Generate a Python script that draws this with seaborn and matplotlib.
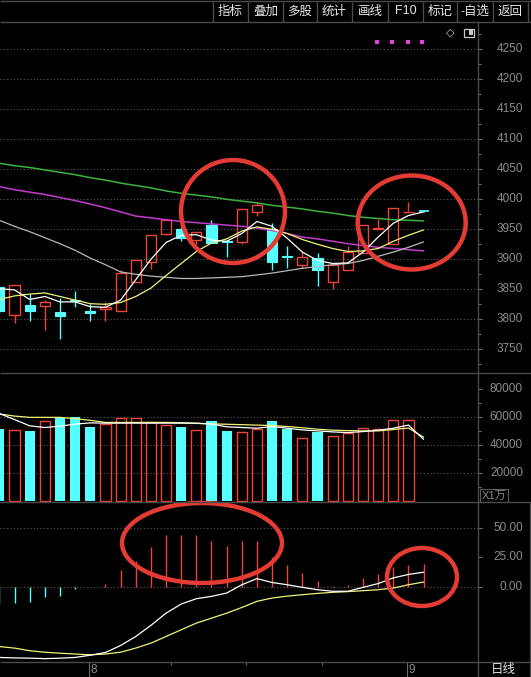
import numpy as np
import pandas as pd
import matplotlib
matplotlib.use("Agg")
import matplotlib.pyplot as plt
from matplotlib.patches import Ellipse, Rectangle
import seaborn as sns

# daily candles (day 0 is cut at the left edge, day 28 is the new day)
opens  = [3853, 3808, 3823, 3823, 3812, 3833, 3814, 3817, 3814, 3862, 3895, 3943, 3950, 3933, 3957,
          3931, 3929, 3979, 3951, 3906, 3890, 3903, 3862, 3882, 3910, 3950, 3926, 3979, 3981]
highs  = [3856, 3858, 3842, 3833, 3836, 3847, 3825, 3829, 3883, 3899, 3940, 3966, 3954, 3946, 3966,
          3932, 3983, 3996, 3960, 3923, 3912, 3911, 3890, 3923, 3957, 3968, 3986, 3996, 3982]
lows   = [3810, 3794, 3797, 3782, 3768, 3820, 3797, 3798, 3814, 3862, 3884, 3940, 3931, 3926, 3927,
          3904, 3925, 3972, 3882, 3886, 3884, 3855, 3851, 3882, 3910, 3950, 3926, 3979, 3979]
closes = [3814, 3858, 3814, 3829, 3806, 3831, 3811, 3821, 3877, 3899, 3940, 3966, 3935, 3946, 3927,
          3929, 3983, 3990, 3896, 3904, 3904, 3882, 3890, 3912, 3957, 3952, 3986, 3980, 3980]

# moving averages on the price panel
ma_white   = [3851, 3849, 3833, 3838, 3829, 3829, 3821, 3820, 3832, 3866, 3900, 3928, 3940, 3941, 3932,
              3930, 3943, 3963, 3955, 3935, 3912, 3898, 3893, 3894, 3912, 3937, 3960, 3973, 3979]
ma_yellow  = [3833, 3839, 3842, 3844, 3838, 3832, 3826, 3825, 3828, 3838, 3852, 3873, 3893, 3913, 3927,
              3934, 3947, 3954, 3950, 3943, 3933, 3925, 3918, 3913, 3914, 3918, 3930, 3940, 3949]
ma_gray    = [3965, 3955, 3946, 3936, 3926, 3915, 3902, 3891, 3879, 3875, 3872, 3870, 3868, 3868, 3869,
              3870, 3871, 3874, 3877, 3881, 3885, 3888, 3891, 3893, 3898, 3905, 3912, 3920, 3929]
ma_magenta = [4021, 4016, 4012, 4008, 4003, 3998, 3992, 3986, 3979, 3972, 3969, 3966, 3963, 3961, 3959,
              3957, 3955, 3952, 3948, 3943, 3937, 3934, 3930, 3926, 3923, 3920, 3918, 3916, 3914]
ma_green   = [4060, 4056, 4053, 4049, 4045, 4041, 4036, 4032, 4027, 4023, 4019, 4014, 4010, 4007, 4004,
              4000, 3997, 3994, 3990, 3987, 3984, 3980, 3977, 3973, 3970, 3968, 3966, 3965, 3964]

# volume panel
volume = [51650, 50700, 50000, 57200, 59100, 60070, 53100, 54800, 59100, 59100, 56000, 54300, 53100, 50700, 57200,
          50000, 49300, 51200, 57200, 51200, 44700, 49500, 46400, 48800, 51900, 51200, 57900, 57900, 600]
vol_ma_yellow = [62000, 60500, 59600, 59600, 59600, 58600, 57500, 56000, 56000, 56000, 56000, 56000, 55800, 55300, 55000,
                 54700, 54400, 54100, 53800, 53100, 52200, 51200, 50500, 50200, 50000, 50000, 51000, 52000, 45500]
vol_ma_white  = [62300, 58000, 53600, 52400, 53400, 54800, 55700, 55500, 55500, 55500, 55500, 55500, 55500, 55500, 54800,
                 52900, 52400, 51900, 53100, 51900, 50700, 50000, 49300, 48800, 49500, 50500, 51900, 54100, 44000]

# MACD panel
macd_hist = [-14.0, -13.6, -12.6, -8.7, -7.8, -1.9, 0.0, 2.9, 14.0, 22.3, 34.0, 43.7, 43.7, 43.7, 38.8,
             34.9, 38.8, 38.8, 25.2, 18.4, 11.6, 4.9, 0.5, 1.9, 7.8, 10.7, 16.5, 18.4, 19.4]
dif = [-59.5, -59.9, -60.1, -60.5, -60.1, -59.5, -57.6, -55.3, -49.4, -41.8, -32.4, -22.1, -14.4, -9.9, -7.9,
       -5.1, 1.9, 7.1, 3.8, 1.9, -0.3, -2.3, -3.6, -3.6, -0.3, 2.9, 7.7, 10.6, 12.5]
dea = [-50.3, -51.6, -53.8, -55.1, -55.9, -56.6, -57.3, -56.6, -55.1, -51.6, -47.4, -41.8, -36.1, -30.5, -26.3,
       -22.1, -17.3, -12.1, -9.3, -7.7, -6.5, -5.4, -4.5, -3.9, -3.1, -2.3, -0.9, 1.9, 4.2]

price_ticks = [3750, 3800, 3850, 3900, 3950, 4000, 4050, 4100, 4150, 4200, 4250]
vol_ticks = [20000, 40000, 60000, 80000]
macd_ticks = [0, 25, 50]
month_start = [6, 27]
month_labels = ["8", "9"]
week_start = [11, 16, 21]
toolbar = ["指标", "叠加", "多股", "统计", "画线", "F10", "标记", "-自选", "返回"]

sns.set_theme(style="dark", rc={"axes.facecolor": "black", "figure.facecolor": "black"})
plt.rcParams["font.family"] = ["Liberation Sans", "Noto Sans CJK SC", "DejaVu Sans"]

RED = "#ee4438"
CYAN = "#55ffff"
GRID = "#5a5a5a"
LINE = "#4a4a4a"
TXT = "#8c8c8c"

W, H = 531, 677
def box(x0, y0, x1, y1):
    return [x0 / W, 1 - y1 / H, (x1 - x0) / W, (y1 - y0) / H]

fig = plt.figure(figsize=(W / 100, H / 100), dpi=100)

idx = np.arange(len(closes))
xlim = (0.6 / 15.15, 478.6 / 15.15)
bw = 0.67

ax_p = fig.add_axes(box(0, 22, 478, 372.7))
ax_v = fig.add_axes(box(0, 372.7, 478, 501.7))
ax_m = fig.add_axes(box(0, 501.7, 478, 661.5))
ax_d = fig.add_axes(box(0, 661.5, 478, 677))

def style_axis(ax, major, minor, ylim, grid, fmt):
    ax.set_facecolor("black")
    ax.set_xlim(*xlim)
    ax.set_ylim(*ylim)
    for s in ax.spines.values():
        s.set_visible(False)
    ax.set_xticks([])
    ax.set_yticks(major)
    ax.set_yticks(minor, minor=True)
    ax.tick_params(axis="y", which="major", right=True, left=False, labelleft=False, labelright=False,
                   length=3, width=0.8, color="#707070")
    ax.tick_params(axis="y", which="minor", right=True, left=False, length=1.8, width=0.8, color="#707070")
    ax.hlines(grid, xlim[0], xlim[1], colors=GRID, linestyles=(0, (1, 2)), lw=0.8, zorder=0)
    for v in major:
        ax.text(523 / 478, v, fmt(v), transform=ax.get_yaxis_transform(), ha="right", va="center",
                fontsize=8.5, color=TXT, clip_on=False)
    ax.set_xlabel("")
    ax.set_ylabel("")

# price panel
for i in idx:
    o, h, l, c = opens[i], highs[i], lows[i], closes[i]
    if c >= o:
        ax_p.vlines(i, c, h, colors=RED, lw=1, zorder=3)
        ax_p.vlines(i, l, o, colors=RED, lw=1, zorder=3)
        if c - o < 2:
            ax_p.hlines(o, i - bw / 2, i + bw / 2, colors=RED, lw=1, zorder=3)
        else:
            ax_p.add_patch(Rectangle((i - bw / 2, o), bw, c - o, fill=False, edgecolor=RED, lw=1, zorder=3))
    else:
        ax_p.vlines(i, l, h, colors=CYAN, lw=1, zorder=3)
        if o - c < 2:
            ax_p.hlines(o, i - bw / 2, i + bw / 2, colors=CYAN, lw=1.2, zorder=3)
        else:
            ax_p.add_patch(Rectangle((i - bw / 2, c), bw, o - c, facecolor=CYAN, edgecolor=CYAN, lw=0.8, zorder=3))

for vals, col, lw in [(ma_green, "#3cb43c", 1.1), (ma_magenta, "#c23ccc", 1.1), (ma_gray, "#b8b8b8", 0.9),
                      (ma_yellow, "#f2f27a", 0.9), (ma_white, "#ffffff", 0.9)]:
    sns.lineplot(x=idx, y=vals, color=col, lw=lw, ax=ax_p, zorder=4)

style_axis(ax_p, price_ticks, [t + 25 for t in price_ticks[:-1]] + [3725, 4275],
           (4250 - 323.4 / 0.6, 4250 + 27.3 / 0.6), price_ticks, lambda v: f"{v}")

# volume panel
up = [c >= o for o, c in zip(opens, closes)]
ax_v.bar(idx[up], np.array(volume)[up], width=bw, facecolor="none", edgecolor=RED, lw=1, zorder=3)
dn = [not u for u in up]
ax_v.bar(idx[dn], np.array(volume)[dn], width=bw, color=CYAN, lw=0, zorder=3)
sns.lineplot(x=idx, y=vol_ma_yellow, color="#f2f27a", lw=0.9, ax=ax_v, zorder=4)
sns.lineplot(x=idx, y=vol_ma_white, color="#ffffff", lw=0.9, ax=ax_v, zorder=4)
style_axis(ax_v, vol_ticks, [10000, 30000, 50000, 70000], (-213, 91270), [20000, 40000, 60000],
           lambda v: f"{v}")

# MACD panel
ax_m.vlines(idx, 0, macd_hist, colors=[RED if h > 0 else CYAN for h in macd_hist], lw=1, zorder=3)
sns.lineplot(x=idx, y=dea, color="#f2f27a", lw=0.9, ax=ax_m, zorder=4)
sns.lineplot(x=idx, y=dif, color="#ffffff", lw=0.9, ax=ax_m, zorder=4)
style_axis(ax_m, macd_ticks, [], (-(661.5 - 587) / 1.184, (587 - 501.7) / 1.184), [0, 50],
           lambda v: f"{v:.2f}")

# date strip
ax_d.set_facecolor("black")
ax_d.set_xlim(*xlim)
ax_d.set_ylim(0, 1)
ax_d.axis("off")
for m, lab in zip(month_start, month_labels):
    ax_d.vlines(m - 0.1, 0, 1, colors="#6a6a6a", lw=0.8)
    ax_d.text(m + 0.02, 0.45, lab, ha="left", va="center", fontsize=8.5, color=TXT)
for wk in week_start:
    ax_d.vlines(wk + 0.3, 0.8, 1, colors="#6a6a6a", lw=0.8)

# overlay: frame, toolbar, marks drawn by hand
ax_o = fig.add_axes([0, 0, 1, 1])
ax_o.set_xlim(0, W)
ax_o.set_ylim(H, 0)
ax_o.axis("off")
ax_o.patch.set_alpha(0)
ax_o.set_zorder(10)

ax_o.hlines([1, 22, 372.7, 501.7, 661.5], 0, W, colors=LINE, lw=1)
ax_o.vlines(478, 22, H, colors=LINE, lw=1)
ax_o.vlines(529.5, 501.7, H, colors=LINE, lw=1)

seps = [213, 248, 283, 317, 352, 388, 423, 457, 493, 528]
ax_o.vlines(seps, 2, 22, colors=LINE, lw=1)
for k, lab in enumerate(toolbar):
    ax_o.text((seps[k] + seps[k + 1]) / 2, 11.5, lab, ha="center", va="center", fontsize=9, color="#e6e6e6")

ax_o.scatter([377.3, 392.3, 407.7, 422.3], [41.7] * 4, marker="s", s=5, color="#e040e0", lw=0)
ax_o.text(450, 32.7, "◇", ha="center", va="center", fontsize=8, color="#d0d0d0",
          family=["DejaVu Sans"])
ax_o.add_patch(Rectangle((464, 28.5), 10, 8, fill=False, edgecolor="#c8c8c8", lw=0.9))
ax_o.add_patch(Rectangle((469, 30), 3.5, 5, facecolor="#c8c8c8", lw=0))

ax_o.add_patch(Rectangle((480, 488.5), 28, 13, fill=False, edgecolor="#5a5a5a", lw=0.8))
ax_o.text(494, 495.5, "X1万", ha="center", va="center", fontsize=8, color=TXT)
ax_o.text(503, 669.5, "日线", ha="center", va="center", fontsize=9, color="#e0e0e0")

for cx, cy, ew, eh in [(233, 211.5, 104, 103), (411.7, 222.5, 108, 94),
                       (202, 543, 160, 80), (422, 577, 70, 58)]:
    ax_o.add_patch(Ellipse((cx, cy), ew, eh, fill=False, edgecolor="#e43c34", lw=3.2))

fig.savefig("out.png", dpi=100, facecolor="black")
